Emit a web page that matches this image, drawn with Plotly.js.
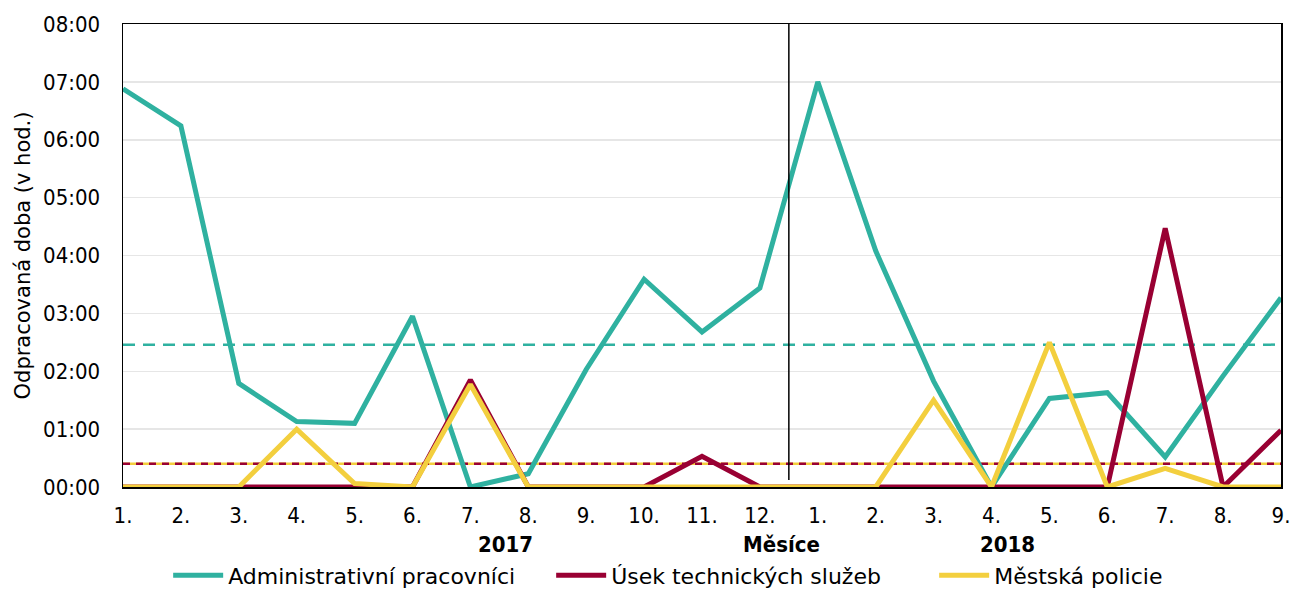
<!DOCTYPE html>
<html>
<head>
<meta charset="utf-8">
<script src="https://cdn.plot.ly/plotly-3.0.1.min.js"></script>
<style>html,body{margin:0;padding:0;background:#fff;}#chart{width:1292px;height:590px;}</style>
</head>
<body>
<div id="chart"></div>
<script>
// Month tick labels (2017: 1.-12., 2018: 1.-9.)
const months = ["1.","2.","3.","4.","5.","6.","7.","8.","9.","10.","11.","12.","1.","2.","3.","4.","5.","6.","7.","8.","9."];
// Worked time in hours
const admin = [6.88,6.24,1.79,1.13,1.10,2.95,0,0.23,2.03,3.59,2.68,3.44,7.0,4.08,1.83,0,1.53,1.63,0.52,1.92,3.27];
const technical = [0,0,0,0,0,0,1.85,0,0,0,0.53,0,0,0,0,0,0,0,4.47,0,0.98];
const police = [0,0,0,1.0,0.06,0,1.77,0,0,0,0,0,0,0,1.5,0,2.5,0,0.32,0,0];
// Averages (dashed lines)
const avgAdmin = 2.46;
const avgTechnical = 0.40;
const avgPolice = 0.40;
// Y tick labels
const yTickVals = [0,1,2,3,4,5,6,7,8];
const yTickText = ["00:00","01:00","02:00","03:00","04:00","05:00","06:00","07:00","08:00"];
const names = ["Administrativní pracovníci","Úsek technických služeb","Městská policie"];
const yearLabels = ["2017","Měsíce","2018"];

const C_TEAL = "#2FB1A0", C_RED = "#990033", C_YEL = "#F3CF3E";
const idx = months.map((m,i)=>i);

const traces = [
  {x: idx, y: idx.map(()=>avgAdmin), mode:"lines", line:{color:C_TEAL, width:2.5, dash:"12px,8px"}, showlegend:false, hoverinfo:"skip"},
  {x: idx, y: idx.map(()=>avgPolice), mode:"lines", line:{color:C_YEL, width:2.5}, showlegend:false, hoverinfo:"skip"},
  {x: idx, y: idx.map(()=>avgTechnical), mode:"lines", line:{color:C_RED, width:2.5, dash:"7px,6px"}, showlegend:false, hoverinfo:"skip"},
  {x: idx, y: admin, name: names[0], mode:"lines", line:{color:C_TEAL, width:5}},
  {x: idx, y: technical, name: names[1], mode:"lines", line:{color:C_RED, width:5}},
  {x: idx, y: police, name: names[2], mode:"lines", line:{color:C_YEL, width:5}}
];

const numFont = {family:"DejaVu Sans Condensed, DejaVu Sans", size:22, color:"#000"};
const boldFont = {family:"DejaVu Sans Condensed, DejaVu Sans", size:22, color:"#000"};

const layout = {
  width:1292, height:590,
  margin:{l:123, r:11, t:24, b:103, autoexpand:false},
  paper_bgcolor:"#fff", plot_bgcolor:"#fff",
  xaxis:{
    range:[0,20], tickvals: idx, ticktext: months, tickfont: numFont,
    showgrid:false, zeroline:false, showline:true, mirror:true, linecolor:"#000", linewidth:1.5,
    ticks:"", ticklabelstandoff:8, layer:"below traces", fixedrange:true, automargin:false
  },
  yaxis:{
    range:[0,8], tickvals:yTickVals, ticktext:yTickText, tickfont: numFont,
    showgrid:true, gridcolor:"#e6e6e6", gridwidth:1.5, zeroline:false,
    showline:true, mirror:true, linecolor:"#000", linewidth:1.5,
    ticks:"", ticklabelstandoff:17, layer:"below traces", automargin:false,
    title:{text:"Odpracovaná doba (v hod.)", font:{family:"DejaVu Sans", size:21, color:"#000"}, standoff:6},
    fixedrange:true
  },
  showlegend:true,
  legend:{
    orientation:"h", x:0.039, xanchor:"left", y:-0.191, yanchor:"middle",
    font:{family:"DejaVu Sans", size:22, color:"#000"},
    entrywidth:318, entrywidthmode:"pixels", itemwidth:50, bgcolor:"rgba(0,0,0,0)"
  },
  shapes:[
    {type:"line", xref:"x", yref:"y", x0:11.5, x1:11.5, y0:0.12, y1:8.03, line:{color:"#000", width:1.5}}
  ],
  annotations:[
    {x:6.6, y:-0.125, xref:"x", yref:"paper", yanchor:"middle", text:"<b>"+yearLabels[0]+"</b>", showarrow:false, font:boldFont},
    {x:11.37, y:-0.125, xref:"x", yref:"paper", yanchor:"middle", text:"<b>"+yearLabels[1]+"</b>", showarrow:false, font:boldFont},
    {x:15.28, y:-0.125, xref:"x", yref:"paper", yanchor:"middle", text:"<b>"+yearLabels[2]+"</b>", showarrow:false, font:boldFont}
  ]
};

Plotly.newPlot("chart", traces, layout, {displayModeBar:false, staticPlot:true});
</script>
</body>
</html>
